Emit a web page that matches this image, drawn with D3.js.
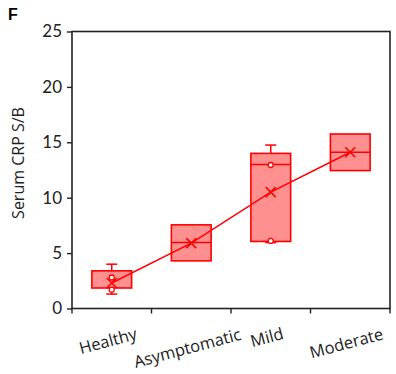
<!DOCTYPE html>
<html>
<head>
<meta charset="utf-8">
<script src="https://cdn.jsdelivr.net/npm/d3@7"></script>
<style>
  html, body { margin: 0; padding: 0; background: #fff; }
  svg { display: block; font-family: "Open Sans", Lato, sans-serif; }
</style>
</head>
<body>
<svg id="chart" width="396" height="374"></svg>
<script>
// Serum CRP S/B by disease severity: box (Q1–Q3), median, whiskers, mean (×) and points
const categories = ["Healthy", "Asymptomatic", "Mild", "Moderate"];
const q1Values = [1.85, 4.3, 6.05, 12.45];
const q3Values = [3.4, 7.55, 14.0, 15.75];
const medianValues = [null, 5.95, 13.0, 14.1];
const whiskerLow = [1.3, null, 5.95, null];
const whiskerHigh = [4.0, null, 14.75, null];
const meanValues = [2.3, 5.9, 10.5, 14.1];
const pointValues = [[2.8, 1.7], [], [12.95, 6.1], []];
const yTicks = [0, 5, 10, 15, 20, 25];

const red = "#ff0000";
const boxFill = "#ff9090";
const axisColor = "#222";

const svg = d3.select("#chart");
const plotL = 72, plotR = 390, plotT = 31.5, plotB = 308.5;

const x = d3.scaleBand().domain(categories).range([plotL, plotR]).paddingInner(0).paddingOuter(0);
const y = d3.scaleLinear().domain([0, 25]).range([plotB, plotT]);
const boxW = x.bandwidth() * 0.5;

// panel "F" label
svg.append("text").attr("x", 8).attr("y", 20)
  .attr("font-family", "Liberation Sans, Arial, sans-serif")
  .attr("font-weight", "bold").attr("font-size", 16).attr("fill", "#000").text("F");

// frame
svg.append("rect").attr("x", plotL).attr("y", plotT)
  .attr("width", plotR - plotL).attr("height", plotB - plotT)
  .attr("fill", "none").attr("stroke", axisColor).attr("stroke-width", 1.6);

// y axis
const yAxis = svg.append("g").attr("transform", `translate(${plotL},0)`)
  .call(d3.axisLeft(y).tickValues(yTicks).tickSize(5).tickPadding(5).tickFormat(d3.format("d")));
yAxis.select(".domain").remove();
yAxis.selectAll(".tick line").attr("stroke", axisColor).attr("stroke-width", 1.4);
yAxis.selectAll(".tick text").attr("font-size", 17).attr("fill", axisColor)
  .attr("font-family", "Lato, 'Open Sans', sans-serif");

// x axis ticks at band boundaries
const xEdges = categories.map(c => x(c)).concat([plotR]);
svg.append("g").selectAll("line").data(xEdges).join("line")
  .attr("x1", d => d).attr("x2", d => d).attr("y1", plotB).attr("y2", plotB + 5)
  .attr("stroke", axisColor).attr("stroke-width", 1.4);

// x category labels, rotated
const xLab = svg.append("g").selectAll("text").data(categories).join("text")
  .attr("font-size", 16.5).attr("fill", axisColor)
  .attr("font-family", "'Open Sans', Lato, sans-serif")
  .attr("text-anchor", "middle").attr("dominant-baseline", "central")
  .text(d => d);
xLab.each(function(d) {
  const w = this.getComputedTextLength();
  const cx = x(d) + x.bandwidth() / 2 - 4;
  const cy = 332 + w * 0.14;
  d3.select(this).attr("transform", `translate(${cx},${cy}) rotate(-15)`);
});

// y axis title
svg.append("text")
  .attr("transform", `translate(24,163) rotate(-90)`)
  .attr("text-anchor", "middle").attr("font-size", 16).attr("fill", axisColor)
  .attr("font-family", "'Open Sans', Lato, sans-serif")
  .text("Serum CRP S/B");

const cx = c => x(c) + x.bandwidth() / 2;
const g = svg.append("g");

// whiskers
categories.forEach((c, i) => {
  const pairs = [[whiskerHigh[i], q3Values[i]], [whiskerLow[i], q1Values[i]]];
  pairs.forEach(([w, q]) => {
    if (w == null) return;
    g.append("line").attr("x1", cx(c)).attr("x2", cx(c)).attr("y1", y(w)).attr("y2", y(q))
      .attr("stroke", red).attr("stroke-width", 1.5);
    g.append("line").attr("x1", cx(c) - 5.5).attr("x2", cx(c) + 5.5).attr("y1", y(w)).attr("y2", y(w))
      .attr("stroke", red).attr("stroke-width", 1.5);
  });
});

// boxes
g.selectAll("rect.box").data(categories).join("rect").attr("class", "box")
  .attr("x", c => cx(c) - boxW / 2)
  .attr("y", (c, i) => y(q3Values[i]))
  .attr("width", boxW)
  .attr("height", (c, i) => y(q1Values[i]) - y(q3Values[i]))
  .attr("fill", boxFill).attr("stroke", red).attr("stroke-width", 1.6);

// medians
g.selectAll("line.median").data(categories.filter((c, i) => medianValues[i] != null)).join("line")
  .attr("class", "median")
  .attr("x1", c => cx(c) - boxW / 2).attr("x2", c => cx(c) + boxW / 2)
  .attr("y1", c => y(medianValues[categories.indexOf(c)]))
  .attr("y2", c => y(medianValues[categories.indexOf(c)]))
  .attr("stroke", red).attr("stroke-width", 1.5);

// line through means
g.append("path")
  .datum(categories.map((c, i) => [cx(c), y(meanValues[i])]))
  .attr("d", d3.line())
  .attr("fill", "none").attr("stroke", red).attr("stroke-width", 1.5);

// mean markers (×)
const s = 5;
categories.forEach((c, i) => {
  const px = cx(c), py = y(meanValues[i]);
  g.append("path")
    .attr("d", `M${px - s},${py - s}L${px + s},${py + s}M${px - s},${py + s}L${px + s},${py - s}`)
    .attr("stroke", red).attr("stroke-width", 1.6).attr("fill", "none");
});

// individual points
categories.forEach((c, i) => {
  pointValues[i].forEach(v => {
    g.append("circle").attr("cx", cx(c)).attr("cy", y(v)).attr("r", 2.5)
      .attr("fill", "#fff").attr("stroke", red).attr("stroke-width", 1.3);
  });
});
</script>
</body>
</html>
